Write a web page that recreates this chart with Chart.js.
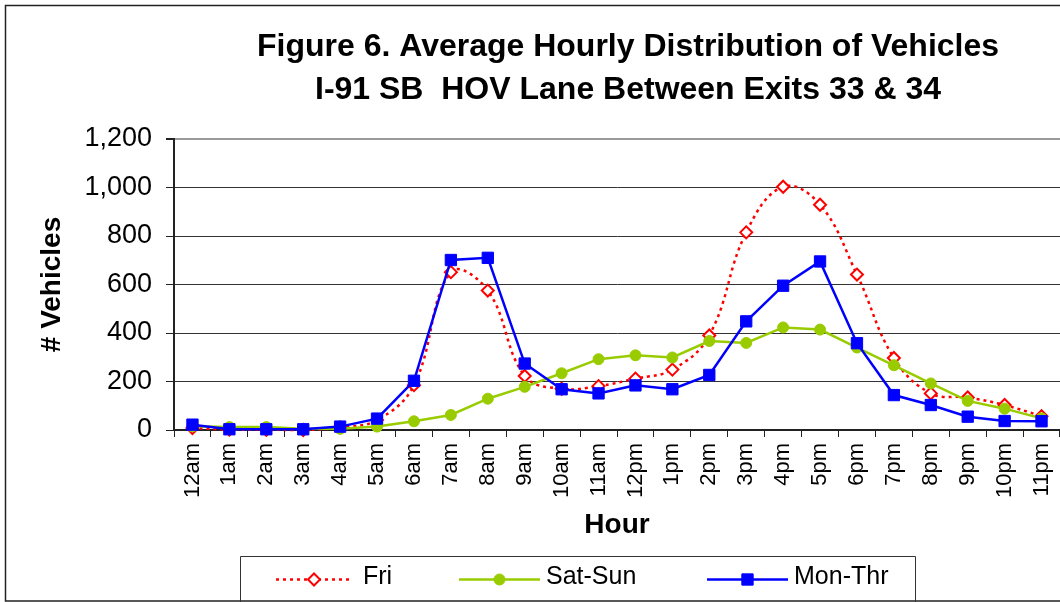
<!DOCTYPE html>
<html>
<head>
<meta charset="utf-8">
<script src="https://cdn.jsdelivr.net/npm/chart.js@4/dist/chart.umd.min.js"></script>
<style>
  html, body { margin: 0; padding: 0; background: #fff; overflow: hidden; }
  #wrap { width: 1060px; height: 602px; position: relative; }
</style>
</head>
<body>
<div id="wrap"><canvas id="c" width="1060" height="602"></canvas></div>
<script>
// ---- Data ----
const titleLines = ['Figure 6. Average Hourly Distribution of Vehicles', 'I-91 SB  HOV Lane Between Exits 33 & 34'];
const hours = ['12am','1am','2am','3am','4am','5am','6am','7am','8am','9am','10am','11am',
               '12pm','1pm','2pm','3pm','4pm','5pm','6pm','7pm','8pm','9pm','10pm','11pm'];
const seriesNames = ['Fri', 'Sat-Sun', 'Mon-Thr'];
const fri    = [8, 2, 1, 0, 11, 41, 185, 651, 575, 223, 170, 181, 212, 249, 390, 815, 1003, 929, 641, 297, 151, 134, 103, 57];
const satSun = [15, 12, 12, 5, 5, 14, 36, 62, 129, 178, 234, 292, 308, 299, 367, 359, 423, 414, 340, 267, 192, 120, 88, 48];
const monThr = [22, 3, 3, 3, 14, 47, 203, 701, 710, 274, 168, 151, 184, 168, 227, 448, 595, 695, 358, 144, 103, 55, 37, 36];
const yTicks = [0, 200, 400, 600, 800, 1000, 1200];
const xAxisTitle = 'Hour';
const yAxisTitle = '# Vehicles';

const FONT = "'Liberation Sans', Arial, Helvetica, sans-serif";
Chart.defaults.font.family = FONT;
Chart.defaults.color = '#000';

const RED = '#FF0000', GREEN = '#99CC00', BLUE = '#0000FF';

const fmt = v => String(v).replace(/\B(?=(\d{3})+(?!\d))/g, ',');

const decorPlugin = {
  id: 'decor',
  afterDraw(chart) {
    const ctx = chart.ctx;
    ctx.save();
    // outer frame
    ctx.strokeStyle = '#222';
    ctx.lineWidth = 1.5;
    ctx.strokeRect(5.5, 5.5, 1200, 595.5);
    // title
    ctx.fillStyle = '#000';
    ctx.font = "bold 32px " + FONT;
    ctx.textAlign = 'center';
    ctx.textBaseline = 'middle';
    ctx.fillText(titleLines[0], 628, 47);
    ctx.fillText(titleLines[1], 628, 90);
    // legend box
    ctx.strokeStyle = '#333';
    ctx.lineWidth = 1;
    ctx.beginPath();
    ctx.moveTo(240.5, 602);
    ctx.lineTo(240.5, 556.5);
    ctx.lineTo(915.5, 556.5);
    ctx.lineTo(915.5, 602);
    ctx.stroke();
    // legend items
    const items = [
      { ds: 0, x0: 276, x1: 352, tx: 363 },
      { ds: 1, x0: 459, x1: 540, tx: 546 },
      { ds: 2, x0: 707, x1: 788, tx: 794 }
    ];
    const ly = 579.5;
    items.forEach(it => {
      const d = chart.data.datasets[it.ds];
      ctx.save();
      ctx.strokeStyle = d.borderColor;
      ctx.lineWidth = d.borderWidth;
      ctx.setLineDash(d.borderDash || []);
      ctx.beginPath();
      ctx.moveTo(it.x0, ly);
      ctx.lineTo(it.x1, ly);
      ctx.stroke();
      ctx.restore();
      ctx.save();
      ctx.setLineDash([]);
      ctx.strokeStyle = d.pointBorderColor;
      ctx.fillStyle = d.pointBackgroundColor;
      ctx.lineWidth = d.pointBorderWidth;
      Chart.helpers.drawPoint(ctx, { pointStyle: d.pointStyle, radius: d.pointRadius, borderWidth: d.pointBorderWidth, rotation: 0 }, (it.x0 + it.x1) / 2, ly);
      ctx.restore();
      ctx.fillStyle = '#000';
      ctx.font = "25px " + FONT;
      ctx.textAlign = 'left';
      ctx.textBaseline = 'middle';
      ctx.fillText(d.label, it.tx, 577);
    });
    ctx.restore();
  }
};

new Chart(document.getElementById('c'), {
  type: 'line',
  data: {
    labels: hours,
    datasets: [
      {
        label: seriesNames[0], data: fri, order: 3,
        borderColor: RED, borderWidth: 2.5, borderDash: [3, 4],
        tension: 0.4, cubicInterpolationMode: 'default',
        pointStyle: 'rectRot', pointRadius: 6, pointBorderWidth: 2,
        pointBorderColor: RED, pointBackgroundColor: '#FFFFFF', clip: false
      },
      {
        label: seriesNames[1], data: satSun, order: 2,
        borderColor: GREEN, borderWidth: 2.5, tension: 0,
        pointStyle: 'circle', pointRadius: 5.5, pointBorderWidth: 1,
        pointBorderColor: GREEN, pointBackgroundColor: GREEN, clip: false
      },
      {
        label: seriesNames[2], data: monThr, order: 1,
        borderColor: BLUE, borderWidth: 2.5, tension: 0,
        pointStyle: 'rect', pointRadius: 8, pointBorderWidth: 1,
        pointBorderColor: BLUE, pointBackgroundColor: BLUE, clip: false
      }
    ]
  },
  options: {
    responsive: false,
    animation: false,
    devicePixelRatio: 1,
    layout: { autoPadding: false, padding: { top: 139, left: 0, right: 0, bottom: 0 } },
    plugins: {
      legend: { display: false },
      title: { display: false },
      tooltip: { enabled: false }
    },
    scales: {
      x: {
        type: 'category',
        offset: true,
        border: { display: true, color: '#222', width: 2 },
        grid: { display: true, drawOnChartArea: false, drawTicks: true, offset: true, tickLength: 7, tickColor: '#222', color: '#222', lineWidth: 1 },
        ticks: { autoSkip: false, minRotation: 90, maxRotation: 90, padding: 6, font: { size: 22 }, color: '#000' },
        title: { display: true, text: xAxisTitle, font: { size: 28, weight: 'bold' }, color: '#000', padding: { top: 0, bottom: 59.7 } },
        afterFit(scale) { scale.height = 172; scale.paddingLeft = 0; scale.paddingRight = 0; }
      },
      y: {
        min: 0, max: 1200,
        afterBuildTicks(scale) { scale.ticks = yTicks.map(v => ({ value: v })); },
        border: { display: true, color: '#222', width: 2 },
        grid: {
          color: c => (c.tick && c.tick.value === 1200) ? '#9a9a9a' : '#333',
          lineWidth: c => (c.tick && c.tick.value === 1200) ? 2 : 1,
          tickColor: '#222', tickLength: 8, drawTicks: true
        },
        ticks: { padding: 14, font: { size: 27 }, color: '#000', callback: v => fmt(v) },
        title: { display: true, text: yAxisTitle, font: { size: 28, weight: 'bold' }, color: '#000', padding: { top: 35.2, bottom: 0 } },
        afterFit(scale) { scale.width = 174; }
      }
    }
  },
  plugins: [decorPlugin]
});
</script>
</body>
</html>
